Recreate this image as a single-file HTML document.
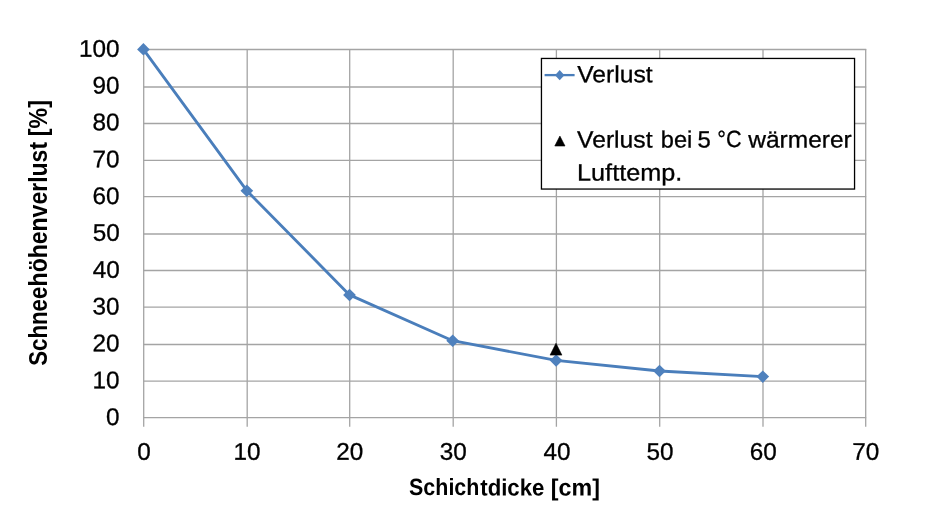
<!DOCTYPE html>
<html lang="de"><head><meta charset="utf-8"><title>Schneehöhenverlust – Schichtdicke</title>
<style>html,body{margin:0;padding:0;background:#fff;overflow:hidden}svg{display:block;filter:blur(0.35px)}text{font-family:"Liberation Sans",sans-serif;fill:#000}</style></head><body>
<svg width="949" height="523" viewBox="0 0 949 523">
<rect width="949" height="523" fill="#fff"/>
<g stroke="#a4a4a4" stroke-width="1.3" fill="none">
<line x1="143.2" y1="49.5" x2="866.2" y2="49.5"/>
<line x1="143.2" y1="87.0" x2="866.2" y2="87.0"/>
<line x1="143.2" y1="123.5" x2="866.2" y2="123.5"/>
<line x1="143.2" y1="160.3" x2="866.2" y2="160.3"/>
<line x1="143.2" y1="196.7" x2="866.2" y2="196.7"/>
<line x1="143.2" y1="234.0" x2="866.2" y2="234.0"/>
<line x1="143.2" y1="270.5" x2="866.2" y2="270.5"/>
<line x1="143.2" y1="307.2" x2="866.2" y2="307.2"/>
<line x1="143.2" y1="344.5" x2="866.2" y2="344.5"/>
<line x1="143.2" y1="381.2" x2="866.2" y2="381.2"/>
<line x1="143.2" y1="417.7" x2="866.2" y2="417.7"/>
<line x1="143.7" y1="49.0" x2="143.7" y2="426.7"/>
<line x1="247.2" y1="49.0" x2="247.2" y2="426.7"/>
<line x1="349.7" y1="49.0" x2="349.7" y2="426.7"/>
<line x1="453.2" y1="49.0" x2="453.2" y2="426.7"/>
<line x1="556.4" y1="49.0" x2="556.4" y2="426.7"/>
<line x1="659.7" y1="49.0" x2="659.7" y2="426.7"/>
<line x1="763.0" y1="49.0" x2="763.0" y2="426.7"/>
<line x1="865.7" y1="49.0" x2="865.7" y2="426.7"/>
</g>
<polyline points="143.4,49.4 246.8,190.7 349.5,294.9 452.7,340.7 556.1,360.4 659.5,371.0 762.8,376.6" fill="none" stroke="#4a7ebb" stroke-width="2.85" stroke-linejoin="round" stroke-linecap="round"/>
<polygon points="137.1,49.4 143.4,43.1 149.8,49.4 143.4,55.6" fill="#4f81bd"/>
<polygon points="240.5,190.7 246.8,184.4 253.2,190.7 246.8,196.9" fill="#4f81bd"/>
<polygon points="343.1,294.9 349.5,288.7 355.9,294.9 349.5,301.2" fill="#4f81bd"/>
<polygon points="446.3,340.7 452.7,334.4 459.1,340.7 452.7,346.9" fill="#4f81bd"/>
<polygon points="549.8,360.4 556.1,354.2 562.5,360.4 556.1,366.7" fill="#4f81bd"/>
<polygon points="653.1,371.0 659.5,364.8 665.9,371.0 659.5,377.2" fill="#4f81bd"/>
<polygon points="756.4,376.6 762.8,370.4 769.1,376.6 762.8,382.9" fill="#4f81bd"/>
<polygon points="556.0,343.3 561.9,355.1 550.1,355.1" fill="#000" stroke="#000" stroke-width="0.6" stroke-linejoin="round"/>
<g id="y-axis-labels">
<text y="56.7" transform="rotate(0.03 78.96 56.7)" font-size="24.1" stroke="#000" stroke-width="0.3"><tspan x="78.96" textLength="40.56" lengthAdjust="spacingAndGlyphs">100</tspan></text>
<text y="93.53" transform="rotate(0.03 92.60 93.53)" font-size="24.1" stroke="#000" stroke-width="0.3"><tspan x="92.60" textLength="27.04" lengthAdjust="spacingAndGlyphs">90</tspan></text>
<text y="130.36" transform="rotate(0.03 92.53 130.36)" font-size="24.1" stroke="#000" stroke-width="0.3"><tspan x="92.53" textLength="27.04" lengthAdjust="spacingAndGlyphs">80</tspan></text>
<text y="167.19" transform="rotate(0.03 92.53 167.19)" font-size="24.1" stroke="#000" stroke-width="0.3"><tspan x="92.53" textLength="27.04" lengthAdjust="spacingAndGlyphs">70</tspan></text>
<text y="204.02" transform="rotate(0.03 92.60 204.02)" font-size="24.1" stroke="#000" stroke-width="0.3"><tspan x="92.60" textLength="27.04" lengthAdjust="spacingAndGlyphs">60</tspan></text>
<text y="240.85" transform="rotate(0.03 92.65 240.85)" font-size="24.1" stroke="#000" stroke-width="0.3"><tspan x="92.65" textLength="27.04" lengthAdjust="spacingAndGlyphs">50</tspan></text>
<text y="277.68" transform="rotate(0.03 92.65 277.68)" font-size="24.1" stroke="#000" stroke-width="0.3"><tspan x="92.65" textLength="27.04" lengthAdjust="spacingAndGlyphs">40</tspan></text>
<text y="314.51" transform="rotate(0.03 92.60 314.51)" font-size="24.1" stroke="#000" stroke-width="0.3"><tspan x="92.60" textLength="27.04" lengthAdjust="spacingAndGlyphs">30</tspan></text>
<text y="351.34" transform="rotate(0.03 92.53 351.34)" font-size="24.1" stroke="#000" stroke-width="0.3"><tspan x="92.53" textLength="27.04" lengthAdjust="spacingAndGlyphs">20</tspan></text>
<text y="388.17" transform="rotate(0.03 92.53 388.17)" font-size="24.1" stroke="#000" stroke-width="0.3"><tspan x="92.53" textLength="27.04" lengthAdjust="spacingAndGlyphs">10</tspan></text>
<text y="425.0" transform="rotate(0.03 106.12 425.0)" font-size="24.1" stroke="#000" stroke-width="0.3"><tspan x="106.12" textLength="13.52" lengthAdjust="spacingAndGlyphs">0</tspan></text>
</g><g id="x-axis-labels">
<text y="459.8" transform="rotate(0.03 137.15 459.8)" font-size="24.1" stroke="#000" stroke-width="0.3"><tspan x="137.15" textLength="13.52" lengthAdjust="spacingAndGlyphs">0</tspan></text>
<text y="459.8" transform="rotate(0.03 233.52 459.8)" font-size="24.1" stroke="#000" stroke-width="0.3"><tspan x="233.52" textLength="27.04" lengthAdjust="spacingAndGlyphs">10</tspan></text>
<text y="459.8" transform="rotate(0.03 336.33 459.8)" font-size="24.1" stroke="#000" stroke-width="0.3"><tspan x="336.33" textLength="27.04" lengthAdjust="spacingAndGlyphs">20</tspan></text>
<text y="459.8" transform="rotate(0.03 439.82 459.8)" font-size="24.1" stroke="#000" stroke-width="0.3"><tspan x="439.82" textLength="27.04" lengthAdjust="spacingAndGlyphs">30</tspan></text>
<text y="459.8" transform="rotate(0.03 543.48 459.8)" font-size="24.1" stroke="#000" stroke-width="0.3"><tspan x="543.48" textLength="27.04" lengthAdjust="spacingAndGlyphs">40</tspan></text>
<text y="459.8" transform="rotate(0.03 646.38 459.8)" font-size="24.1" stroke="#000" stroke-width="0.3"><tspan x="646.38" textLength="27.04" lengthAdjust="spacingAndGlyphs">50</tspan></text>
<text y="459.8" transform="rotate(0.03 749.78 459.8)" font-size="24.1" stroke="#000" stroke-width="0.3"><tspan x="749.78" textLength="27.04" lengthAdjust="spacingAndGlyphs">60</tspan></text>
<text y="459.8" transform="rotate(0.03 852.34 459.8)" font-size="24.1" stroke="#000" stroke-width="0.3"><tspan x="852.34" textLength="27.04" lengthAdjust="spacingAndGlyphs">70</tspan></text>
</g><g id="x-axis-title">
<text y="495.45" transform="rotate(0.03 409.09 495.45)" font-size="23.5" font-weight="bold"><tspan x="409.09" textLength="70.27" lengthAdjust="spacingAndGlyphs">Schich</tspan><tspan x="480.25" textLength="64.17" lengthAdjust="spacingAndGlyphs">tdicke</tspan> <tspan x="550.81" textLength="49.11" lengthAdjust="spacingAndGlyphs">[cm]</tspan></text>
</g><g id="y-axis-title">
<text transform="translate(47.2 0) rotate(-90)" font-size="25.3" font-weight="bold"><tspan x="-365.75" textLength="79.09" lengthAdjust="spacingAndGlyphs">Schnee</tspan><tspan x="-286.42" textLength="144.49" lengthAdjust="spacingAndGlyphs">höhenverlust</tspan> <tspan x="-136.17" textLength="36.00" lengthAdjust="spacingAndGlyphs">[%]</tspan></text>
</g>
<g id="legend">
<rect x="541.45" y="58.45" width="313.1" height="130.6" fill="#fff" stroke="#000" stroke-width="1.3"/>
<line x1="544.6" y1="75.1" x2="574.6" y2="75.1" stroke="#4a7ebb" stroke-width="2.3"/>
<polygon points="555.0,75.2 559.7,70.1 564.4,75.2 559.7,80.3" fill="#4f81bd"/>
<text y="82.3" transform="rotate(0.03 577.23 82.3)" font-size="23.5" stroke="#000" stroke-width="0.3"><tspan x="577.23" textLength="75.42" lengthAdjust="spacingAndGlyphs">Verlust</tspan></text>
<polygon points="559.9,136.1 565.0,146.0 554.8,146.0" fill="#000" stroke="#000" stroke-width="0.6" stroke-linejoin="round"/>
<text y="147.4" transform="rotate(0.03 577.08 147.4)" font-size="23.5" stroke="#000" stroke-width="0.3"><tspan x="577.08" textLength="75.45" lengthAdjust="spacingAndGlyphs">Verlust</tspan> <tspan x="660.77" textLength="31.53" lengthAdjust="spacingAndGlyphs">bei</tspan> <tspan x="697.48" textLength="13.28" lengthAdjust="spacingAndGlyphs">5</tspan> <tspan x="717.24" textLength="24.26" lengthAdjust="spacingAndGlyphs">°C</tspan> <tspan x="748.16" textLength="103.62" lengthAdjust="spacingAndGlyphs">wärmerer</tspan></text>
<text y="180.5" transform="rotate(0.03 577.05 180.5)" font-size="23.5" stroke="#000" stroke-width="0.3"><tspan x="577.05" textLength="105.24" lengthAdjust="spacingAndGlyphs">Lufttemp.</tspan></text>
</g>
</svg></body></html>
